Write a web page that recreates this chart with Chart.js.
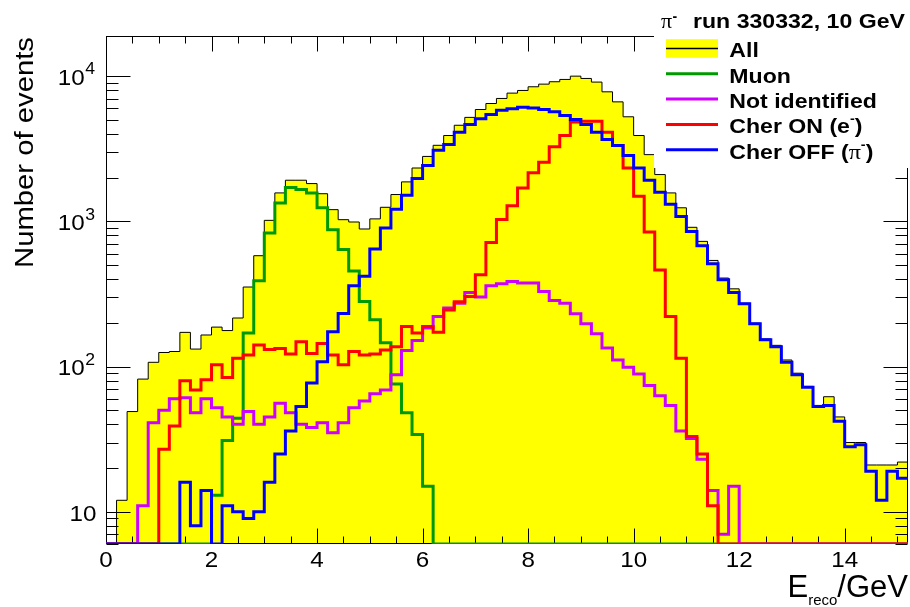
<!DOCTYPE html>
<html>
<head>
<meta charset="utf-8">
<script src="https://cdn.jsdelivr.net/npm/chart.js@4.4.0/dist/chart.umd.min.js"></script>
<style>
  html, body { margin: 0; padding: 0; background: #fff; }
  #ereco { display: block; }
</style>
</head>
<body>
<canvas id="ereco" width="910" height="607"></canvas>
<script>
// histogram binning: 76 bins of 0.2 GeV from 0 to 15.2
const binWidth = 0.2;
const xMin = 0, xMax = 15.2;
const yMin = 6, yMax = 18900;

// counts per bin (0 = empty bin)
const allEvents = [0, 12, 49, 82, 107, 125, 127, 172, 132, 165,
  187, 177, 216, 353, 580, 1016, 1570, 1920, 1920, 1820,
  1550, 1204, 1027, 990, 886, 1040, 1250, 1530, 1870, 2330,
  2800, 3340, 3900, 4590, 5200, 5890, 6480, 7020, 7640, 7970,
  8450, 8810, 9150, 9490, 10000, 9640, 9100, 7800, 6650, 5250,
  3900, 2880, 2100, 1570, 1240, 910, 728, 538, 407, 343,
  273, 199, 155, 140, 111, 90, 73, 54, 62, 45,
  30, 30, 21, 21, 21, 22];
const muon = [0, 0, 0, 0, 0, 0, 0, 0, 0, 0,
  13, 31, 44, 170, 390, 832, 1340, 1710, 1660, 1570,
  1240, 876, 640, 455, 281, 210, 146, 76, 48, 34,
  15, 0, 0, 0, 0, 0, 0, 0, 0, 0,
  0, 0, 0, 0, 0, 0, 0, 0, 0, 0,
  0, 0, 0, 0, 0, 0, 0, 0, 0, 0,
  0, 0, 0, 0, 0, 0, 0, 0, 0, 0,
  0, 0, 0, 0, 0, 0];
const notIdentified = [0, 0, 0, 11, 41, 50, 60, 61, 48, 60,
  52, 45, 40, 49, 40, 45, 56, 48, 40, 38,
  41, 35, 41, 52, 58, 65, 69, 88, 129, 151,
  184, 221, 253, 273, 324, 301, 360, 372, 386, 376,
  376, 329, 285, 273, 231, 197, 168, 134, 111, 99,
  89, 74, 63, 54, 36, 32, 23, 14, 7, 15,
  0, 0, 0, 0, 0, 0, 0, 0, 0, 0,
  0, 0, 0, 0, 0, 0];
const cherOn = [0, 0, 0, 0, 0, 27, 39, 80, 69, 81,
  103, 84, 114, 120, 141, 131, 133, 122, 148, 123,
  144, 120, 103, 127, 120, 122, 130, 137, 189, 170,
  189, 172, 245, 280, 304, 429, 716, 1030, 1280, 1700,
  2160, 2550, 3260, 3900, 4840, 4890, 4890, 4110, 3330, 2330,
  1490, 845, 462, 221, 114, 33, 25, 11, 0, 0,
  0, 0, 0, 0, 0, 0, 0, 0, 0, 0,
  0, 0, 0, 0, 0, 0];
const cherOff = [0, 0, 0, 0, 0, 0, 0, 16, 8, 14,
  0, 11, 10, 9, 10, 16, 25, 36, 53, 77,
  108, 174, 232, 360, 418, 645, 900, 1210, 1510, 1970,
  2420, 3090, 3380, 4110, 4640, 5080, 5440, 5830, 5960, 6110,
  6040, 5890, 5680, 5360, 5030, 4645, 4110, 3660, 3330, 2840,
  2330, 1920, 1585, 1310, 1080, 853, 680, 511, 396, 324,
  271, 197, 153, 137, 107, 88, 72, 53, 54, 42,
  28, 29, 19, 12, 19, 17];

const xTickLabels = ['0', '2', '4', '6', '8', '10', '12', '14'];
const yTickValues = [10, 100, 1000, 10000];
const yTickExponents = ['', '2', '3', '4'];

const FONT = "'Liberation Sans', Arial, Helvetica, sans-serif";
const SERIF = "'Liberation Serif', 'DejaVu Serif', serif";
const SX = 1.1; // ROOT glyphs run a bit wider than Arial

// left bin edges plus a closing point at the upper edge
function histPoints(counts) {
  const pts = counts.map((c, i) => ({ x: i * binWidth, y: c > 0 ? c : yMin }));
  pts.push({ x: counts.length * binWidth, y: pts[pts.length - 1].y });
  return pts;
}

function histSet(label, counts, color, width, order) {
  return {
    label: label,
    data: histPoints(counts),
    borderColor: color,
    borderWidth: width,
    stepped: 'before',
    pointRadius: 0,
    fill: false,
    order: order,
    borderJoinStyle: 'miter',
    borderCapStyle: 'butt'
  };
}

function drawText(ctx, str, x, y, font, align, sx) {
  ctx.save();
  ctx.translate(x, y);
  ctx.scale(sx || 1, 1);
  ctx.font = font;
  ctx.textAlign = align || 'left';
  ctx.textBaseline = 'alphabetic';
  ctx.fillStyle = '#000';
  ctx.fillText(str, 0, 0);
  ctx.restore();
}

function textWidth(ctx, str, font, sx) {
  ctx.save();
  ctx.font = font;
  const w = ctx.measureText(str).width * (sx || 1);
  ctx.restore();
  return w;
}

// draws a row of [text, font, dy] pieces, returns end x
function drawPieces(ctx, pieces, x, y, sx) {
  let cx = x;
  pieces.forEach(p => {
    drawText(ctx, p[0], cx, y + (p[2] || 0), p[1], 'left', sx);
    cx += textWidth(ctx, p[0], p[1], sx);
  });
  return cx;
}

// frame and ROOT style ticks on all four sides
function drawFrame(chart) {
  const ctx = chart.ctx;
  const a = chart.chartArea;
  const xs = chart.scales.x, ys = chart.scales.y;
  ctx.save();
  ctx.strokeStyle = '#000';
  ctx.lineWidth = 1;
  const L = Math.round(a.left) + 0.5, R = Math.round(a.right) - 0.5;
  const T = Math.round(a.top) + 0.5, B = Math.round(a.bottom) - 0.5;
  ctx.strokeRect(L, T, R - L, B - T);
  ctx.beginPath();
  for (let k = 0; k * 0.5 <= xMax + 1e-9; k++) {
    const v = k * 0.5;
    const px = Math.round(xs.getPixelForValue(v)) + 0.5;
    const len = (k % 4 === 0) ? 15 : 7;
    ctx.moveTo(px, B); ctx.lineTo(px, B - len);
    ctx.moveTo(px, T); ctx.lineTo(px, T + len);
  }
  for (let d = 0; d <= 4; d++) {
    for (let m = 1; m <= 9; m++) {
      const v = m * Math.pow(10, d);
      if (v < yMin || v > yMax) continue;
      const py = Math.round(ys.getPixelForValue(v)) + 0.5;
      const len = (m === 1) ? 24 : 12;
      ctx.moveTo(L, py); ctx.lineTo(L + len, py);
      ctx.moveTo(R, py); ctx.lineTo(R - len, py);
    }
  }
  ctx.stroke();
  ctx.restore();
}

function drawAxisText(chart) {
  const ctx = chart.ctx;
  const xs = chart.scales.x, ys = chart.scales.y;
  const numFont = '22px ' + FONT;
  const expFont = '16px ' + FONT;
  xTickLabels.forEach(t => {
    drawText(ctx, t, xs.getPixelForValue(Number(t)), 566.5, numFont, 'center', SX);
  });
  yTickValues.forEach((v, i) => {
    const py = ys.getPixelForValue(v);
    const e = yTickExponents[i];
    if (!e) {
      drawText(ctx, '10', 96.5, py + 9.5, numFont, 'right', SX);
    } else {
      drawText(ctx, e, 95, py - 1.7, expFont, 'right', SX);
      const ew = textWidth(ctx, e, expFont, SX);
      drawText(ctx, '10', 95 - ew - 0.5, py + 8.8, numFont, 'right', SX);
    }
  });

  // y title, rotated, ending at the top of the axis
  const tFont = '25.5px ' + FONT;
  const title = 'Number of events';
  const w = textWidth(ctx, title, tFont, 1);
  ctx.save();
  ctx.translate(33.3, 268);
  ctx.rotate(-Math.PI / 2);
  ctx.scale(231 / w, 1);
  ctx.font = tFont;
  ctx.fillStyle = '#000';
  ctx.textBaseline = 'alphabetic';
  ctx.fillText(title, 0, 0);
  ctx.restore();

  // x title E_reco/GeV, right aligned
  const big = '31px ' + FONT, small = '15px ' + FONT;
  const total = textWidth(ctx, 'E', big) + textWidth(ctx, 'reco', small) + textWidth(ctx, '/GeV', big);
  drawPieces(ctx, [['E', big], ['reco', small, 8], ['/GeV', big]], 908 - total, 597, 1);
}

function drawLegend(chart) {
  const ctx = chart.ctx;
  ctx.save();
  ctx.fillStyle = '#fff';
  ctx.fillRect(654, 0, 256, 168);
  ctx.restore();

  const bold = 'bold 21px ' + FONT;
  const supB = 'bold 13px ' + FONT;
  const pi = '22px ' + SERIF;

  // header
  let hx = drawPieces(ctx, [['\u03c0', pi]], 661, 28.3, 1);
  drawPieces(ctx, [['-', 'bold 14px ' + FONT, -7]], hx + 0.5, 28.3, 1);
  drawText(ctx, 'run 330332, 10 GeV', 693, 28.3, bold, 'left', SX);

  const entries = [
    { pieces: [['All', bold]], color: '#000', box: true },
    { pieces: [['Muon', bold]], color: '#009900' },
    { pieces: [['Not identified', bold]], color: '#cc00ff' },
    { pieces: [['Cher ON (e', bold], ['-', supB, -10], [')', bold]], color: '#ff0000' },
    { pieces: [['Cher OFF (', bold], ['\u03c0', pi], ['-', supB, -10], [')', bold]], color: '#0000ff' }
  ];
  entries.forEach((en, i) => {
    const base = 57.3 + i * 25.3;
    const cy = base - 8.8;
    ctx.save();
    if (en.box) {
      ctx.fillStyle = '#ffff00';
      ctx.fillRect(666, cy - 9.3, 52, 18.6);
      ctx.strokeStyle = '#000';
      ctx.lineWidth = 1.5;
    } else {
      ctx.strokeStyle = en.color;
      ctx.lineWidth = 3;
    }
    ctx.beginPath();
    ctx.moveTo(666, cy); ctx.lineTo(718, cy);
    ctx.stroke();
    ctx.restore();
    drawPieces(ctx, en.pieces, 729.3, base, SX);
  });
}

const rootStyle = {
  id: 'rootStyle',
  afterDatasetDraw(chart, args) {
    // axes sit above the filled "All" histogram but below the coloured lines
    if (args.index === 0) drawFrame(chart);
  },
  afterDraw(chart) {
    drawAxisText(chart);
    drawLegend(chart);
  }
};

const allSet = histSet('All', allEvents, '#000000', 1, 5);
allSet.fill = 'start';
allSet.backgroundColor = '#ffff00';

new Chart(document.getElementById('ereco'), {
  type: 'line',
  data: {
    datasets: [
      allSet,
      histSet('Muon', muon, '#009900', 3, 4),
      histSet('Not identified', notIdentified, '#cc00ff', 3, 3),
      histSet('Cher ON (e-)', cherOn, '#ff0000', 3, 2),
      histSet('Cher OFF (pi-)', cherOff, '#0000ff', 3, 1)
    ]
  },
  options: {
    responsive: false,
    maintainAspectRatio: false,
    animation: false,
    layout: { padding: { left: 106, right: 2, top: 36, bottom: 63 } },
    plugins: { legend: { display: false }, tooltip: { enabled: false } },
    scales: {
      x: { type: 'linear', min: xMin, max: xMax, display: false },
      y: { type: 'logarithmic', min: yMin, max: yMax, display: false }
    }
  },
  plugins: [rootStyle]
});
</script>
</body>
</html>
